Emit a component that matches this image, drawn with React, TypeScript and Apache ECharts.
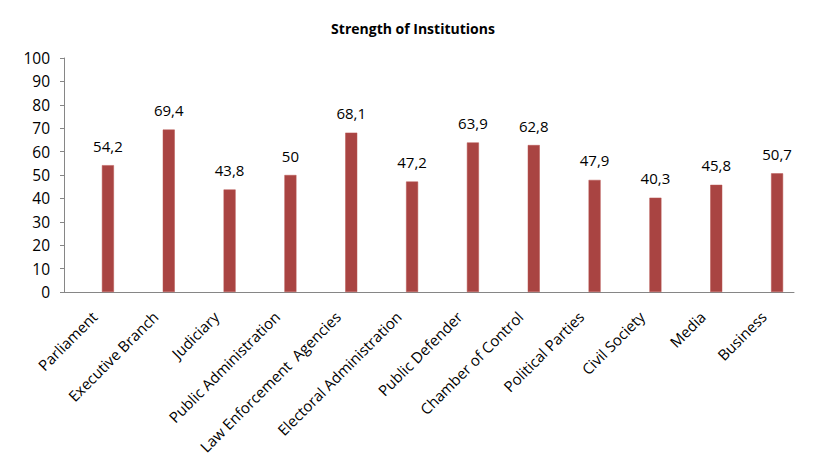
import React, { useEffect, useRef } from "react";
import * as echarts from "echarts";

const categories = [
  "Parliament",
  "Executive Branch",
  "Judiciary",
  "Public Administration",
  "Law Enforcement  Agencies",
  "Electoral Administration",
  "Public Defender",
  "Chamber of Control",
  "Political Parties",
  "Civil Society",
  "Media",
  "Business",
];
const values = [54.2, 69.4, 43.8, 50, 68.1, 47.2, 63.9, 62.8, 47.9, 40.3, 45.8, 50.7];
const placeholder = categories.map(() => null);
const yMin = 0;
const yMax = 100;
const yInterval = 10;

const FONT = "Open Sans";

export default function App() {
  const ref = useRef<HTMLDivElement>(null);
  useEffect(() => {
    if (!ref.current) return;
    const chart = echarts.init(ref.current, undefined, { renderer: "svg" });
    chart.setOption({
      animation: false,
      backgroundColor: "#ffffff",
      title: {
        text: "Strength of Institutions",
        left: 408,
        textAlign: "center",
        top: 16,
        textStyle: { fontFamily: FONT, fontSize: 14, fontWeight: "bold", color: "#000" },
      },
      grid: { left: 64, right: 36, top: 58, bottom: 171, containLabel: false },
      xAxis: {
        type: "category",
        data: categories,
        axisLine: { lineStyle: { color: "#868686", width: 1 } },
        axisTick: { show: false },
        axisLabel: {
          rotate: 45,
          interval: 0,
          margin: 22,
          color: "#000",
          fontFamily: FONT,
          fontSize: 15,
        },
      },
      yAxis: {
        type: "value",
        min: yMin,
        max: yMax,
        interval: yInterval,
        splitLine: { show: false },
        axisLine: { show: true, lineStyle: { color: "#868686", width: 1 } },
        axisTick: { show: true, length: 4, lineStyle: { color: "#868686" } },
        axisLabel: { color: "#000", fontFamily: FONT, fontSize: 15.5, margin: 14 },
      },
      series: [
        {
          type: "bar",
          data: placeholder,
          barWidth: 12,
          barGap: "125%",
          silent: true,
        },
        {
          type: "bar",
          data: values,
          barWidth: 12,
          barGap: "125%",
          itemStyle: { color: "#A94442", borderColor: "#B85450", borderWidth: 0.5 },
          label: {
            show: true,
            position: "top",
            distance: 12,
            color: "#000",
            fontFamily: FONT,
            fontSize: 15,
            formatter: (p: any) => String(p.value).replace(".", ","),
          },
        },
      ],
    });
    return () => chart.dispose();
  }, []);
  return <div ref={ref} style={{ width: 830, height: 463, position: "absolute", left: 0, top: 0 }} />;
}
